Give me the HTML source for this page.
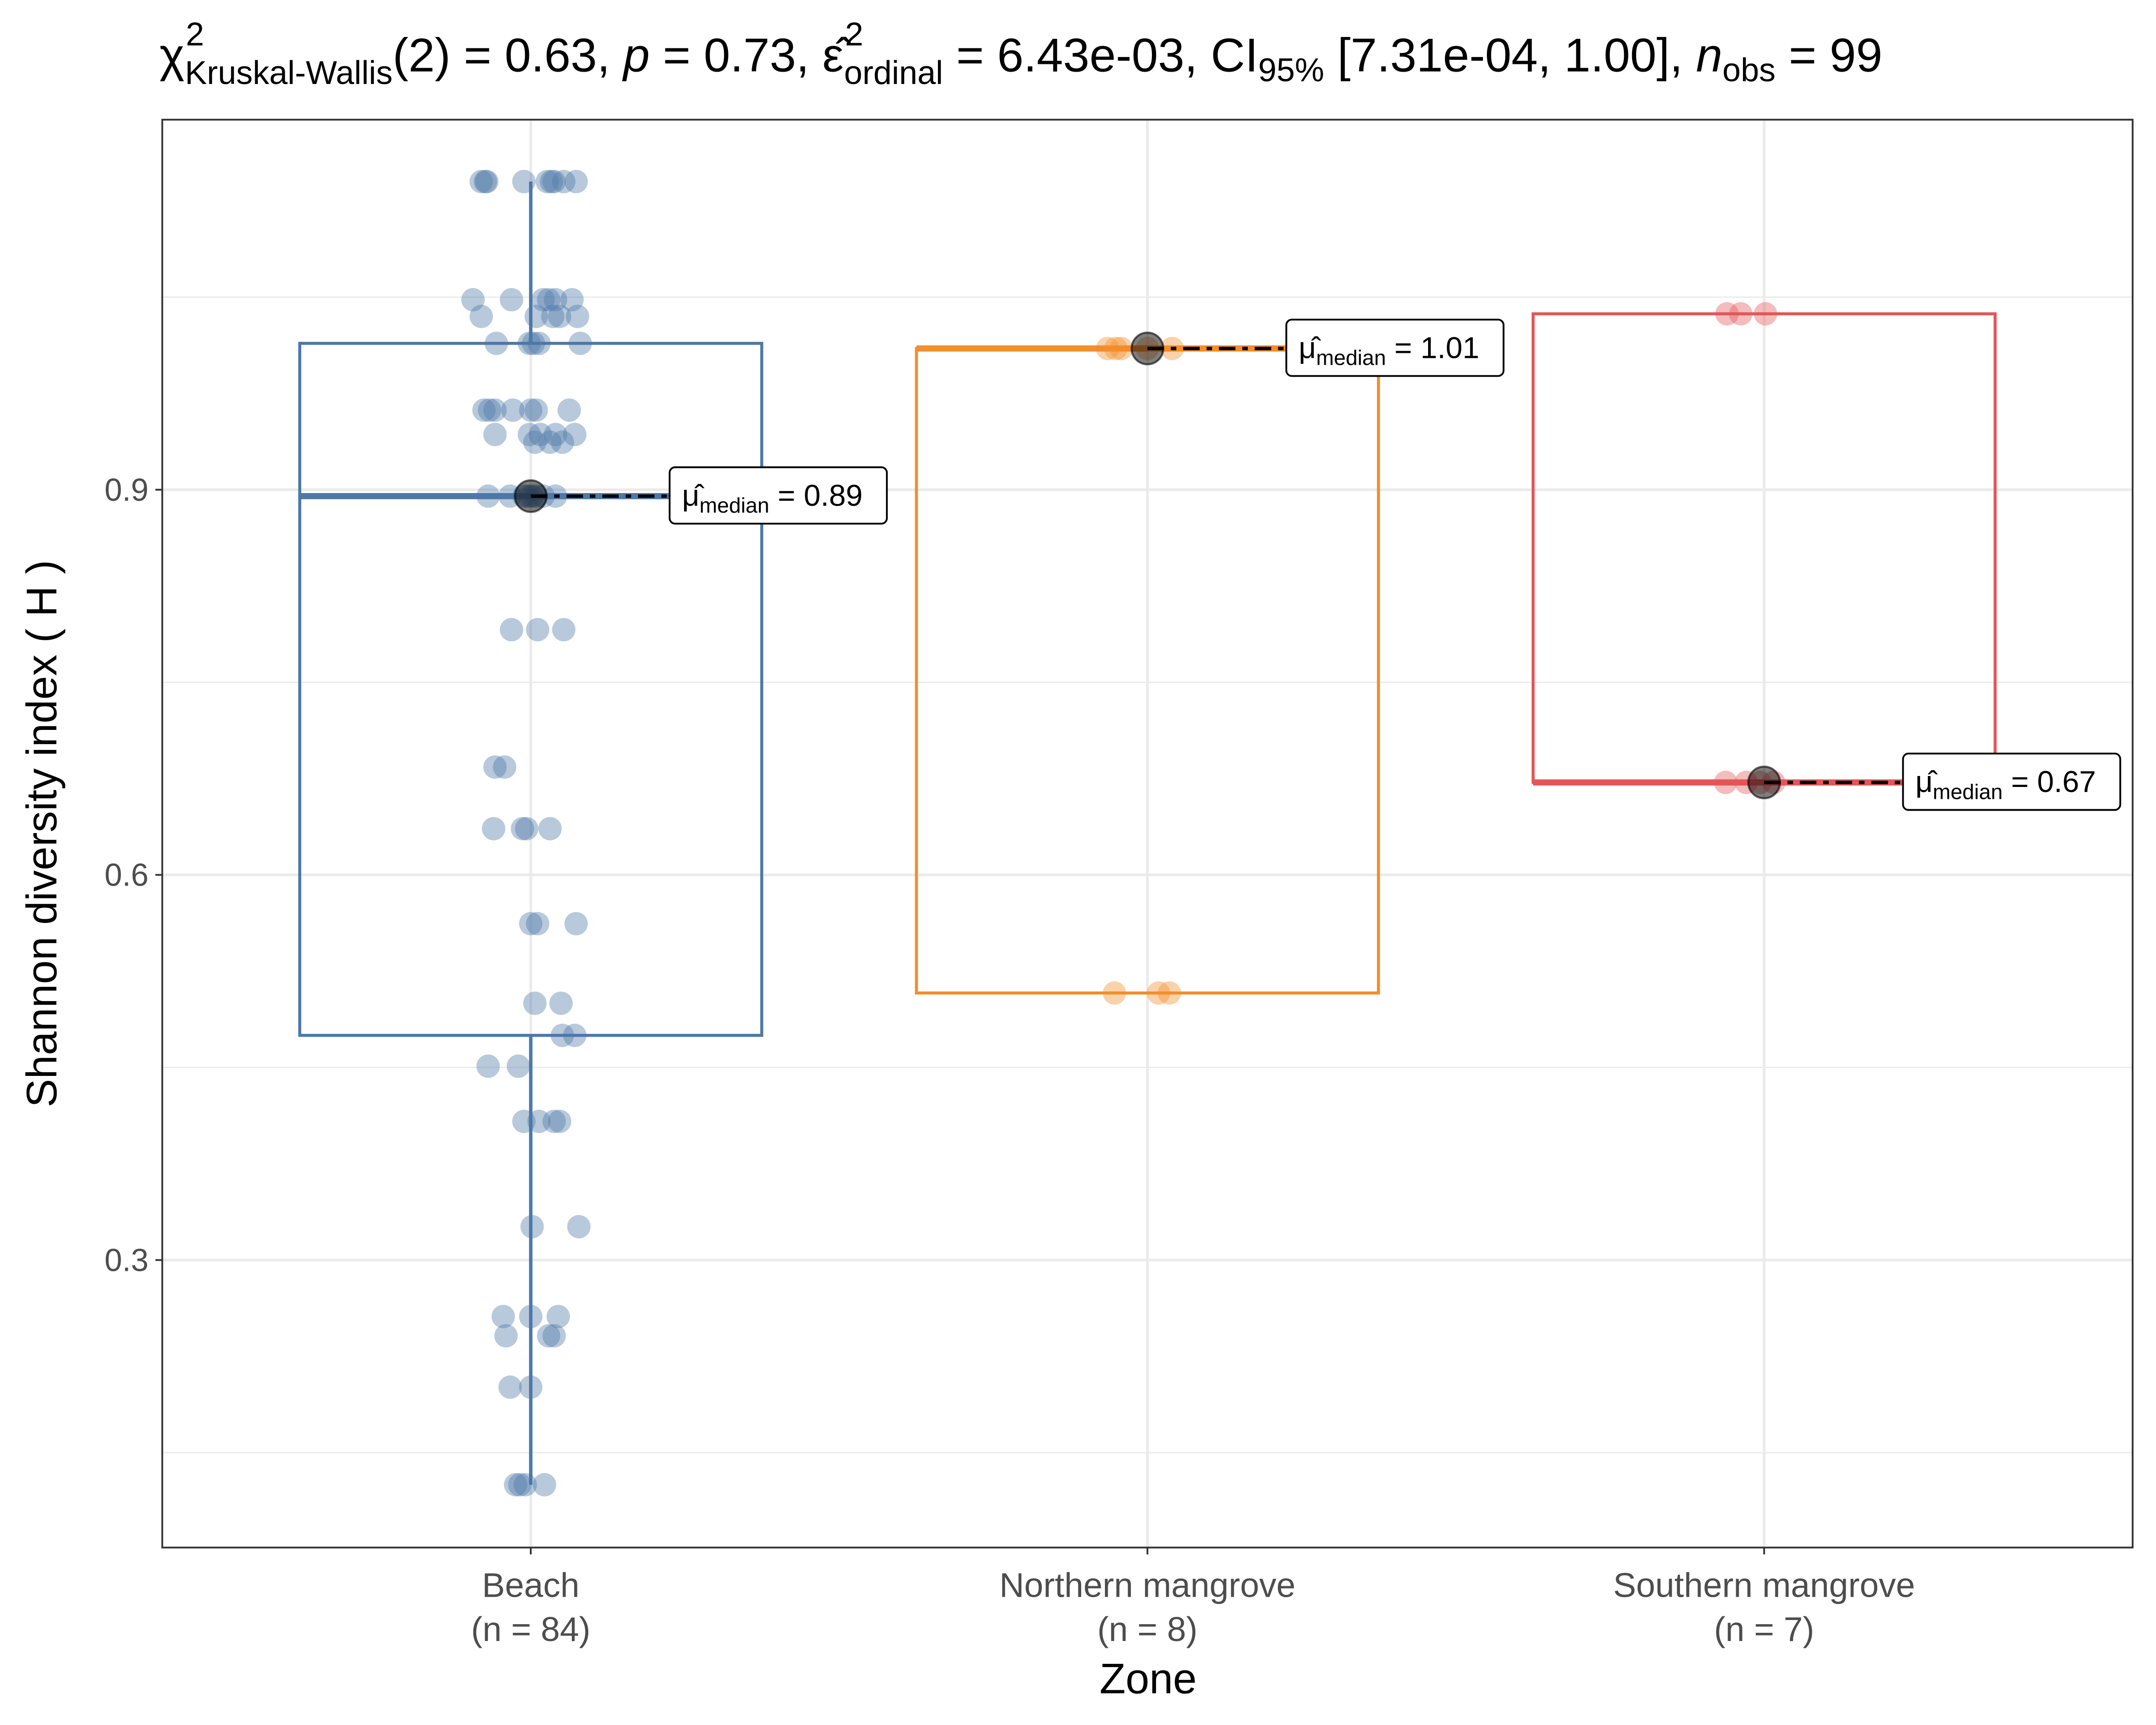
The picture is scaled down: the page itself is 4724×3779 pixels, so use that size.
<!DOCTYPE html>
<html><head><meta charset="utf-8"><style>
html,body{margin:0;padding:0;background:#fff;}
svg{display:block;}
text{font-family:"Liberation Sans",sans-serif;}
</style></head><body>
<svg id="chart" width="4724" height="3779" viewBox="0 0 1568 1254" preserveAspectRatio="none" xmlns="http://www.w3.org/2000/svg">
<rect x="0" y="0" width="1568" height="1254" fill="#fff"/>
<g id="grid"></g>
<g id="boxes"></g>
<g id="points"></g>
<g id="medians"></g>
<rect x="118" y="87" width="1433" height="1038" fill="none" stroke="#333" stroke-width="1.3"/>
<g id="axes"></g>
<text x="116" y="52" font-size="34.5" fill="#000">χ<tspan font-size="24" dy="-19" dx="1">2</tspan><tspan font-size="24" dy="28" dx="-14">Kruskal-Wallis</tspan><tspan dy="-9">(2) = 0.63, </tspan><tspan font-style="italic">p</tspan><tspan> = 0.73, ε̂</tspan><tspan font-size="24" dy="-19" dx="1">2</tspan><tspan font-size="24" dy="28" dx="-14">ordinal</tspan><tspan dy="-9"> = 6.43e-03, CI</tspan><tspan font-size="24" dy="7">95%</tspan><tspan dy="-7"> [7.31e-04, 1.00], </tspan><tspan font-style="italic">n</tspan><tspan font-size="24" dy="7">obs</tspan><tspan dy="-7"> = 99</tspan></text>
<text x="835" y="1231" font-size="31" text-anchor="middle" fill="#000">Zone</text>
<text transform="translate(41,606) rotate(-90)" font-size="31" text-anchor="middle" fill="#000">Shannon diversity index ( H )</text>
</svg>
<script>
const categories = ["Beach", "Northern mangrove", "Southern mangrove"];
const counts = [84, 8, 7];
const colors = ["#4E79A7", "#F28E2B", "#E15759"];
const boxLower = [0.475, 0.508, 0.672];
const boxUpper = [1.014, 1.010, 1.037];
const medians = [0.895, 1.010, 0.672];
const whiskerLow = [0.125, 0.508, 0.672];
const whiskerHigh = [1.140, 1.010, 1.037];
const medianLabels = ["0.89", "1.01", "0.67"];
const yTicks = [0.3, 0.6, 0.9];
const yMinor = [0.15, 0.45, 0.75, 1.05];
const beachValues = [1.14,1.14,1.14,1.14,1.14,1.14,1.14,1.14,1.14,1.048,1.048,1.048,1.048,1.048,1.048,1.035,1.035,1.035,1.035,1.035,1.014,1.014,1.014,1.014,1.014,0.962,0.962,0.962,0.962,0.962,0.962,0.962,0.943,0.943,0.943,0.943,0.943,0.937,0.937,0.937,0.895,0.895,0.895,0.895,0.895,0.895,0.895,0.895,0.791,0.791,0.791,0.684,0.684,0.636,0.636,0.636,0.636,0.562,0.562,0.562,0.50,0.50,0.475,0.475,0.451,0.451,0.408,0.408,0.408,0.408,0.326,0.326,0.256,0.256,0.256,0.241,0.241,0.241,0.201,0.201,0.125,0.125,0.125,0.125];
const beachJitter = [-36,-33,-32,-5,12,15,17,24,33,-42,-14,9,13,18,30,-36,4,16,21,34,-25,-1,2,6,36,-34,-30,-26,-13,0,4,28,-26,-1,7,18,32,3,14,23,-31,-15,-5,-2,1,4,9,18,-14,5,24,-26,-19,-27,-6,-3,14,0,5,33,3,22,23,32,-31,-9,-5,6,17,21,1,35,-20,0,20,-18,13,17,-15,0,-11,-8,-4,10];
const northValues = [1.01,1.01,1.01,1.01,1.01,0.508,0.508,0.508];
const northJitter = [-29,-23,-19,0,18,-24,8,16];
const southValues = [1.037,1.037,1.037,0.672,0.672,0.672,0.672];
const southJitter = [-27,-17,1,-28,-13,-3,7];

const NS = "http://www.w3.org/2000/svg";
const xPos = i => 386 + i * 448.5;
const yScale = v => 356 + (0.9 - v) * 933.33;
function mk(parent, tag, attrs) {
  const e = document.createElementNS(NS, tag);
  for (const k in attrs) e.setAttribute(k, attrs[k]);
  document.getElementById(parent).appendChild(e);
  return e;
}
yMinor.forEach(v => {
  const l = mk("grid", "line", {x1:118, x2:1551, y1:yScale(v), y2:yScale(v), stroke:"#ebebeb", "stroke-width":1});
  
  
});
yTicks.forEach(v => {
  const l = mk("grid", "line", {x1:118, x2:1551, y1:yScale(v), y2:yScale(v), stroke:"#ebebeb", "stroke-width":2});
  
  
  const t = mk("axes", "line", {x1:113, x2:118, y1:yScale(v), y2:yScale(v), stroke:"#333", "stroke-width":1.3});
  
  
  const tx = mk("axes", "text", {x:108, y:yScale(v)+8, "font-size":23, "text-anchor":"end", fill:"#4d4d4d"});
  tx.textContent = v.toFixed(1);
  
  
});
categories.forEach((c, i) => {
  const x = xPos(i);
  const l = mk("grid", "line", {x1:x, x2:x, y1:87, y2:1125, stroke:"#ebebeb", "stroke-width":2});
  
  
  const t = mk("axes", "line", {x1:x, x2:x, y1:1125, y2:1130, stroke:"#333", "stroke-width":1.3});
  
  
  const tx = mk("axes", "text", {x:x, y:1161, "font-size":25, "text-anchor":"middle", fill:"#4d4d4d"});
  tx.textContent = c;
  
  
  const tn = mk("axes", "text", {x:x, y:1193, "font-size":25, "text-anchor":"middle", fill:"#4d4d4d"});
  tn.textContent = "(n = " + counts[i] + ")";
  
  
  const col = colors[i];
  if (whiskerHigh[i] > boxUpper[i]) {
    const w = mk("boxes", "line", {x1:x, x2:x, y1:yScale(whiskerHigh[i]), y2:yScale(boxUpper[i]), stroke:col, "stroke-width":2.5});
    
    
  }
  if (whiskerLow[i] < boxLower[i]) {
    const w2 = mk("boxes", "line", {x1:x, x2:x, y1:yScale(boxLower[i]), y2:yScale(whiskerLow[i]), stroke:col, "stroke-width":2.5});
    
    
  }
  const b = mk("boxes", "rect", {x:x-168, y:yScale(boxUpper[i]), width:336, height:yScale(boxLower[i])-yScale(boxUpper[i]), fill:"none", stroke:col, "stroke-width":2.2});
  
  
  const m = mk("boxes", "line", {x1:x-168, x2:x+168, y1:yScale(medians[i]), y2:yScale(medians[i]), stroke:col, "stroke-width":4.5});
  
  
});
function drawPoints(vals, jit, i) {
  vals.forEach((v, k) => {
    const p = mk("points", "circle", {cx:xPos(i)+jit[k], cy:yScale(v), r:8.5, fill:colors[i], "fill-opacity":0.4});
    
    
  });
}
drawPoints(beachValues, beachJitter, 0);
drawPoints(northValues, northJitter, 1);
drawPoints(southValues, southJitter, 2);
categories.forEach((c, i) => {
  const x = xPos(i), y = yScale(medians[i]);
  const dl = mk("medians", "line", {x1:x, x2:x+100, y1:y, y2:y, stroke:"#000", "stroke-width":2.5, "stroke-dasharray":"12 5 4 5"});
  
  
  const c1 = mk("medians", "circle", {cx:x, cy:y, r:11.5, fill:"#000", "fill-opacity":0.5, stroke:"#000", "stroke-opacity":0.6, "stroke-width":1.5});
  
  
  const r = mk("medians", "rect", {x:x+101, y:y-21, width:158, height:41, rx:4, fill:"#fff", stroke:"#000", "stroke-width":1.3});
  
  
  const t = mk("medians", "text", {x:x+110, y:y+7, "font-size":22, fill:"#000"});
  t.innerHTML = 'μ̂<tspan font-size="15.5" dy="5">median</tspan><tspan dy="-5"> = ' + medianLabels[i] + '</tspan>';
  
  
});
</script>
</body></html>
